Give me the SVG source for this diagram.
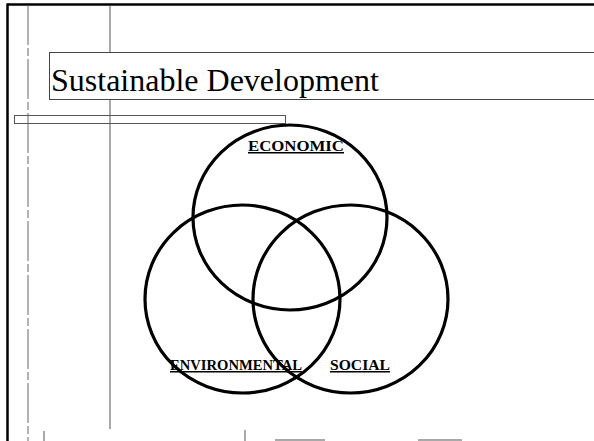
<svg xmlns="http://www.w3.org/2000/svg" width="594" height="441" viewBox="0 0 594 441">
<style>
.frame{stroke:#000;stroke-width:2.5;fill:none}
.guide{stroke:#555;stroke-width:1;fill:none}
.dash{stroke:#666;stroke-width:1;fill:none;stroke-dasharray:40 3 8 3}
.ring{fill:none;stroke:#000;stroke-width:3.2}
.lbl{font-family:"Liberation Serif","Times New Roman",serif;font-weight:bold;font-size:15px;fill:#000;text-decoration:underline}
.title{font-family:"Liberation Serif","Times New Roman",serif;font-size:32px;fill:#000}
</style>
<rect width="594" height="441" fill="#fff"/>
<g id="frame">
<line class="frame" x1="7" y1="4.5" x2="594" y2="4.5"/>
<line class="frame" x1="7.5" y1="3.5" x2="7.5" y2="441"/>
<line class="dash" x1="28" y1="5" x2="28" y2="441"/>
<line class="guide" x1="110" y1="5" x2="110" y2="429"/>
<rect class="guide" x="14.5" y="115.5" width="271" height="8" fill="#fff"/>
<line class="guide" x1="44" y1="431" x2="44" y2="441"/>
<line class="guide" x1="245" y1="430" x2="245" y2="441"/>
<line class="guide" x1="275" y1="440" x2="325" y2="440"/>
<line class="guide" x1="418" y1="440" x2="462" y2="440"/>
</g>
<g id="title">
<rect x="49.5" y="52.5" width="560" height="47" fill="#fff" stroke="#444" stroke-width="1"/>
<text class="title" x="51" y="91">Sustainable Development</text>
</g>
<g id="economic">
<ellipse class="ring" cx="290" cy="217.5" rx="97" ry="92.5"/>
<text class="lbl" x="248" y="151" textLength="96" lengthAdjust="spacingAndGlyphs">ECONOMIC</text>
</g>
<g id="environmental">
<ellipse class="ring" cx="242.5" cy="299" rx="97.5" ry="94"/>
<text class="lbl" x="170" y="370" textLength="132" lengthAdjust="spacingAndGlyphs">ENVIRONMENTAL</text>
</g>
<g id="social">
<ellipse class="ring" cx="350.5" cy="299" rx="97.5" ry="94"/>
<text class="lbl" x="330" y="370" textLength="60" lengthAdjust="spacingAndGlyphs">SOCIAL</text>
</g>
</svg>
